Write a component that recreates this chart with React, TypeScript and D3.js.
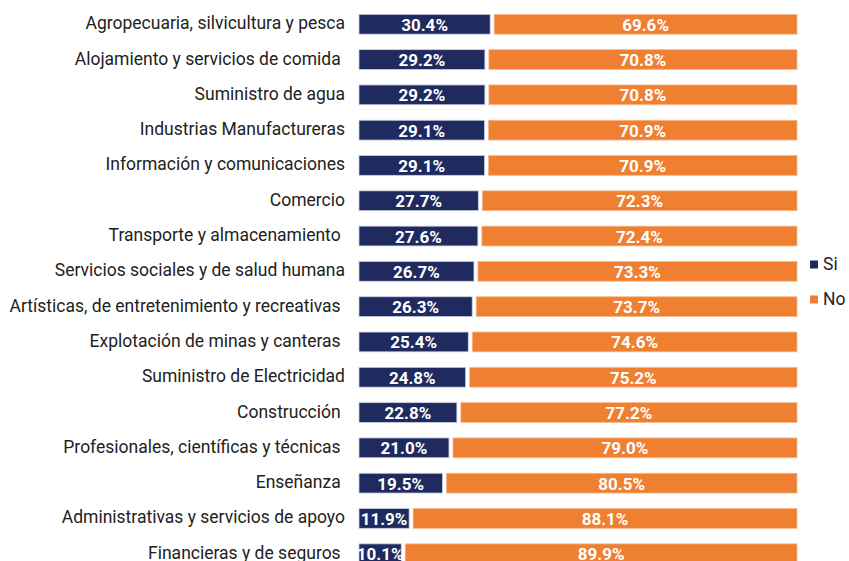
import React from "react";
import * as d3 from "d3";

const categories = [
  "Agropecuaria, silvicultura y pesca",
  "Alojamiento y servicios de comida ",
  "Suministro de agua",
  "Industrias Manufactureras",
  "Información y comunicaciones",
  "Comercio",
  "Transporte y almacenamiento ",
  "Servicios sociales y de salud humana",
  "Artísticas, de entretenimiento y recreativas ",
  "Explotación de minas y canteras ",
  "Suministro de Electricidad",
  "Construcción ",
  "Profesionales, científicas y técnicas ",
  "Enseñanza ",
  "Administrativas y servicios de apoyo",
  "Financieras y de seguros ",
];
const siValues = [30.4, 29.2, 29.2, 29.1, 29.1, 27.7, 27.6, 26.7, 26.3, 25.4, 24.8, 22.8, 21.0, 19.5, 11.9, 10.1];
const noValues = [69.6, 70.8, 70.8, 70.9, 70.9, 72.3, 72.4, 73.3, 73.7, 74.6, 75.2, 77.2, 79.0, 80.5, 88.1, 89.9];
const seriesNames = ["Si", "No"];
const colors = ["#1F2A5E", "#EF7F31"];

const W = 849;
const H = 561;

export default function App() {
  const x = d3.scaleLinear().domain([0, 100]).range([359, 797]);
  const y = d3
    .scaleBand<string>()
    .domain(categories)
    .range([6.6, 6.6 + 35.3 * categories.length])
    .paddingInner(0.44)
    .paddingOuter(0.22);
  const gap = 2;
  const font = "Roboto, 'Noto Sans', sans-serif";
  const bh = y.bandwidth();

  return (
    <svg
      width={W}
      height={H}
      style={{ position: "absolute", left: 0, top: 0, background: "#fff" }}
      fontFamily={font}
    >
      {categories.map((c, i) => {
        const y0 = y(c)!;
        const cy = y0 + bh / 2;
        const si = siValues[i];
        const no = noValues[i];
        const xs0 = x(0);
        const xs1 = x(si) - gap;
        const xn0 = x(si) + gap;
        const xn1 = x(si + no);
        return (
          <g key={c}>
            <text
              x={345}
              y={cy - 1}
              textAnchor="end"
              dominantBaseline="central"
              fontSize={17.5}
              fill="#222"
              style={{ whiteSpace: "pre" }}
            >
              {c}
            </text>
            <rect x={xs0} y={y0} width={xs1 - xs0} height={bh} fill={colors[0]} stroke="#c9cde0" strokeWidth={0.8} />
            <rect x={xn0} y={y0} width={xn1 - xn0} height={bh} fill={colors[1]} stroke="#f6b98c" strokeWidth={0.8} />
            <text
              x={(xs0 + xs1) / 2}
              y={cy + 0.5}
              textAnchor="middle"
              dominantBaseline="central"
              fontSize={17}
              fontWeight="bold"
              fill="#fff"
            >
              {si.toFixed(1)}%
            </text>
            <text
              x={(xn0 + xn1) / 2}
              y={cy + 0.5}
              textAnchor="middle"
              dominantBaseline="central"
              fontSize={17}
              fontWeight="bold"
              fill="#fff"
            >
              {no.toFixed(1)}%
            </text>
          </g>
        );
      })}
      {seriesNames.map((s, i) => {
        const cy = 264.5 + i * 35;
        return (
          <g key={s}>
            <rect x={810} y={cy - 4} width={8} height={8} fill={colors[i]} />
            <text x={823} y={cy - 1} dominantBaseline="central" fontSize={17.5} fill="#222">
              {s}
            </text>
          </g>
        );
      })}
    </svg>
  );
}
